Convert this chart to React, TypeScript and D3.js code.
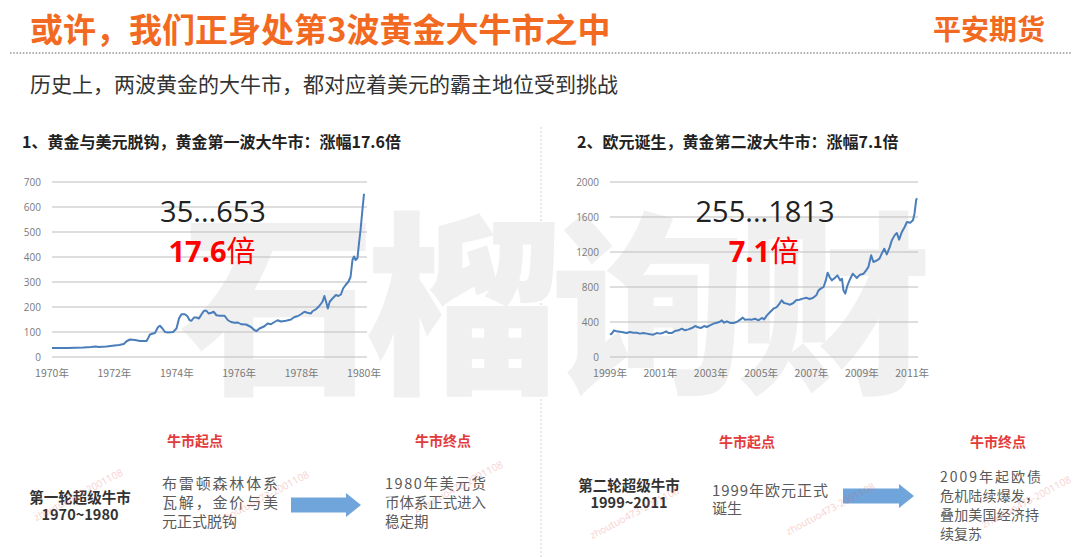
import React from "react";
import * as d3 from "d3";

// ---------- DATA ----------
const leftYears = [1970.0, 1970.25, 1970.5, 1970.75, 1971.0, 1971.25, 1971.4, 1971.5, 1971.75, 1972.0, 1972.15, 1972.3, 1972.39, 1972.5, 1972.66, 1972.82, 1973.03, 1973.08, 1973.14, 1973.24, 1973.3, 1973.4, 1973.46, 1973.54, 1973.62, 1973.72, 1973.88, 1973.99, 1974.07, 1974.15, 1974.26, 1974.34, 1974.41, 1974.47, 1974.55, 1974.63, 1974.71, 1974.79, 1974.87, 1974.95, 1975.02, 1975.11, 1975.18, 1975.27, 1975.37, 1975.53, 1975.64, 1975.74, 1975.85, 1975.96, 1976.06, 1976.22, 1976.38, 1976.49, 1976.56, 1976.65, 1976.81, 1976.91, 1977.02, 1977.13, 1977.23, 1977.34, 1977.5, 1977.66, 1977.77, 1977.87, 1977.98, 1978.09, 1978.19, 1978.3, 1978.35, 1978.46, 1978.56, 1978.67, 1978.73, 1978.8, 1978.84, 1978.9, 1978.99, 1979.1, 1979.18, 1979.26, 1979.33, 1979.41, 1979.5, 1979.57, 1979.63, 1979.68, 1979.73, 1979.79, 1979.84, 1979.89, 1979.95, 1980.0];
const leftValues = [36, 36, 36, 37, 38, 40, 42, 40, 42, 46, 48, 52, 63, 70, 68, 64, 64, 75, 90, 94, 96, 120, 125, 114, 100, 98, 100, 114, 154, 171, 171, 163, 147, 145, 158, 158, 154, 170, 185, 185, 174, 177, 181, 167, 165, 165, 147, 140, 137, 138, 131, 130, 120, 107, 104, 114, 123, 134, 131, 140, 147, 142, 145, 150, 160, 163, 171, 181, 177, 174, 183, 191, 203, 221, 244, 214, 194, 221, 234, 248, 244, 250, 274, 288, 301, 321, 388, 402, 388, 395, 455, 509, 589, 653];

const rightYears = [1999.0, 1999.07, 1999.16, 1999.26, 1999.46, 1999.66, 1999.79, 1999.93, 2000.06, 2000.19, 2000.32, 2000.46, 2000.59, 2000.72, 2000.85, 2000.99, 2001.12, 2001.23, 2001.32, 2001.45, 2001.58, 2001.72, 2001.85, 2001.98, 2002.11, 2002.25, 2002.38, 2002.47, 2002.6, 2002.74, 2002.84, 2002.97, 2003.11, 2003.24, 2003.34, 2003.44, 2003.53, 2003.64, 2003.77, 2003.9, 2004.03, 2004.17, 2004.27, 2004.36, 2004.5, 2004.63, 2004.76, 2004.89, 2005.03, 2005.12, 2005.23, 2005.36, 2005.49, 2005.62, 2005.73, 2005.82, 2005.91, 2006.02, 2006.15, 2006.28, 2006.39, 2006.52, 2006.66, 2006.79, 2006.92, 2007.05, 2007.19, 2007.28, 2007.37, 2007.48, 2007.57, 2007.64, 2007.72, 2007.81, 2007.94, 2008.03, 2008.14, 2008.21, 2008.27, 2008.34, 2008.43, 2008.54, 2008.64, 2008.74, 2008.8, 2008.93, 2009.07, 2009.17, 2009.26, 2009.37, 2009.46, 2009.6, 2009.7, 2009.79, 2009.89, 2009.99, 2010.1, 2010.19, 2010.3, 2010.39, 2010.48, 2010.59, 2010.7, 2010.79, 2010.92, 2011.03, 2011.09, 2011.16, 2011.19];
const rightValues = [255, 267, 305, 293, 286, 274, 286, 278, 278, 267, 274, 267, 259, 255, 274, 267, 278, 293, 274, 274, 297, 305, 324, 305, 316, 331, 354, 343, 331, 354, 343, 362, 381, 392, 400, 419, 392, 408, 389, 389, 400, 427, 450, 427, 430, 427, 438, 419, 446, 430, 476, 514, 552, 571, 610, 648, 617, 610, 598, 617, 648, 655, 667, 678, 663, 674, 705, 762, 781, 800, 876, 964, 914, 876, 907, 933, 876, 895, 762, 724, 819, 895, 952, 922, 903, 941, 952, 990, 1029, 1162, 1086, 1105, 1124, 1181, 1238, 1173, 1250, 1333, 1390, 1417, 1341, 1429, 1486, 1543, 1535, 1562, 1638, 1798, 1813];

const leftYTicks = [0, 100, 200, 300, 400, 500, 600, 700];
const rightYTicks = [0, 400, 800, 1200, 1600, 2000];
const leftXTicks = [1970, 1972, 1974, 1976, 1978, 1980];
const rightXTicks = [1999, 2001, 2003, 2005, 2007, 2009, 2011];

const title = "或许，我们正身处第3波黄金大牛市之中";
const brand = "平安期货";
const subtitle = "历史上，两波黄金的大牛市，都对应着美元的霸主地位受到挑战";
const heading1 = "1、黄金与美元脱钩，黄金第一波大牛市：涨幅17.6倍";
const heading2 = "2、欧元诞生，黄金第二波大牛市：涨幅7.1倍";

const CJK = "'Noto Sans CJK SC', 'Noto Sans', sans-serif";
const NUM = "'Open Sans', 'Noto Sans', sans-serif";
const ORANGE = "#F26A21";
const RED = "#E23B3B";
const LINE = "#4A7EBB";
const GRID = "#bdbdbd";
const AXIS_TXT = "#7a7a7a";
const ARROW = "#6FA5DA";

const stamp = "zhoutuo473-2001108";
const stampPos = [
  [80, 498], [266, 500], [460, 490], [636, 516], [832, 512], [1028, 505],
];

function Chart({ xs, ys, xDomain, xRange, yMax, yTicks, xTicks, gridX2 }) {
  const x = d3.scaleLinear().domain(xDomain).range(xRange);
  const y = d3.scaleLinear().domain([0, yMax]).range([357, 182]);
  const data = xs.map((t, i) => [t, ys[i]]);
  const line = d3.line().x((d) => x(d[0])).y((d) => y(d[1]));
  return (
    <g>
      {yTicks.map((t) => (
        <g key={t}>
          <line x1={xRange[0]} x2={gridX2} y1={y(t)} y2={y(t)} stroke={GRID} strokeWidth={1} />
          <text x={xRange[0] - 11} y={y(t) + 3.5} textAnchor="end" fontSize={10} fill={AXIS_TXT} fontFamily={NUM}>
            {t}
          </text>
        </g>
      ))}
      {xTicks.map((t) => (
        <text key={t} x={x(t)} y={377} textAnchor="middle" fontSize={10.5} fill={AXIS_TXT} fontFamily={CJK}>
          {t + "年"}
        </text>
      ))}
      <path d={line(data)} fill="none" stroke={LINE} strokeWidth={2} strokeLinejoin="round" />
    </g>
  );
}

function Arrow({ x0, x1, cy }) {
  const head = 15;
  const bh = 7.5;
  const hh = 12;
  const pts = [
    [x0, cy - bh], [x1 - head, cy - bh], [x1 - head, cy - hh], [x1, cy],
    [x1 - head, cy + hh], [x1 - head, cy + bh], [x0, cy + bh],
  ];
  return <polygon points={pts.map((p) => p.join(",")).join(" ")} fill={ARROW} />;
}

function Lines({ x, ys, lines, size, fill, weight, widths, anchor }) {
  return (
    <g>
      {lines.map((s, i) => (
        <text
          key={i}
          x={x}
          y={ys[i]}
          fontSize={size}
          fill={fill}
          fontWeight={weight || "normal"}
          fontFamily={CJK}
          textAnchor={anchor || "start"}
          textLength={widths && widths[i] ? widths[i] : undefined}
          lengthAdjust="spacing"
        >
          {s}
        </text>
      ))}
    </g>
  );
}

export default function App() {
  return (
    <svg width={1080} height={557} style={{ position: "absolute", left: 0, top: 0, background: "#fff" }}>
      <rect width={1080} height={557} fill="#fff" />
      {/* header */}
      <text x={30} y={42} fontSize={33} fontWeight="bold" fill={ORANGE} fontFamily={CJK}>{title}</text>
      <text x={1045} y={40} fontSize={28} fontWeight="bold" fill={ORANGE} fontFamily={CJK} textAnchor="end">{brand}</text>
      <line x1={10} x2={1072} y1={53} y2={53} stroke="#9a9a9a" strokeWidth={1.6} strokeDasharray="1.6 1.6" />
      <text x={30} y={92} fontSize={21} fill="#333" fontFamily={CJK}>{subtitle}</text>

      {/* divider */}
      <line x1={541} x2={541} y1={127} y2={557} stroke="#d0d0d0" strokeWidth={1} strokeDasharray="2 2" />

      {/* headings */}
      <text x={22} y={148} fontSize={16} fontWeight="bold" fill="#222" fontFamily={CJK}>{heading1}</text>
      <text x={577} y={148} fontSize={16} fontWeight="bold" fill="#222" fontFamily={CJK}>{heading2}</text>

      {/* big watermark */}
      <text x={180} y={378} fontSize={196} fontWeight={900} fill="#f0f0f0" fontFamily={CJK} textLength={752} lengthAdjust="spacing">
        石榴询财
      </text>

      {/* charts */}
      <Chart xs={leftYears} ys={leftValues} xDomain={[1970, 1980]} xRange={[52, 364]} yMax={700} yTicks={leftYTicks} xTicks={leftXTicks} gridX2={367} />
      <Chart xs={rightYears} ys={rightValues} xDomain={[1999, 2011.19]} xRange={[610, 917]} yMax={2000} yTicks={rightYTicks} xTicks={rightXTicks} gridX2={918} />

      {/* chart annotations */}
      <text x={213} y={222} fontSize={29} fill="#222" fontFamily={NUM} textAnchor="middle">35...653</text>
      <text x={212} y={262} fontSize={29} fill="#ff0000" fontFamily={CJK} textAnchor="middle">
        <tspan fontWeight="bold" fontFamily={NUM}>17.6</tspan>
        <tspan>倍</tspan>
      </text>
      <text x={765} y={222} fontSize={29} fill="#222" fontFamily={NUM} textAnchor="middle">255...1813</text>
      <text x={764} y={262} fontSize={29} fill="#ff0000" fontFamily={CJK} textAnchor="middle">
        <tspan fontWeight="bold" fontFamily={NUM}>7.1</tspan>
        <tspan>倍</tspan>
      </text>

      {/* bottom: left */}
      <text x={195} y={446} fontSize={14} fontWeight="bold" fill={RED} fontFamily={CJK} textAnchor="middle">牛市起点</text>
      <text x={443} y={446} fontSize={14} fontWeight="bold" fill={RED} fontFamily={CJK} textAnchor="middle">牛市终点</text>
      <Lines x={80} ys={[503, 520]} lines={["第一轮超级牛市", "1970~1980"]} size={14.5} fill="#333" weight="bold" anchor="middle" />
      <Lines x={162} ys={[489, 508, 527]} lines={["布雷顿森林体系", "瓦解，金价与美", "元正式脱钩"]} size={15} fill="#5a5a5a" widths={[116, 116, 0]} />
      <Arrow x0={291} x1={361} cy={505} />
      <Lines x={385} ys={[489, 508, 527]} lines={["1980年美元货", "币体系正式进入", "稳定期"]} size={14.5} fill="#5a5a5a" widths={[101, 101, 0]} />

      {/* bottom: right */}
      <text x={747} y={447} fontSize={14} fontWeight="bold" fill={RED} fontFamily={CJK} textAnchor="middle">牛市起点</text>
      <text x={998} y={447} fontSize={14} fontWeight="bold" fill={RED} fontFamily={CJK} textAnchor="middle">牛市终点</text>
      <Lines x={629} ys={[491, 508]} lines={["第二轮超级牛市", "1999~2011"]} size={14.5} fill="#333" weight="bold" anchor="middle" />
      <Lines x={712} ys={[496, 514]} lines={["1999年欧元正式", "诞生"]} size={15} fill="#5a5a5a" widths={[116, 0]} />
      <Arrow x0={843} x1={914} cy={496} />
      <Lines x={940} ys={[482, 501, 520, 539]} lines={["2009年起欧债", "危机陆续爆发，", "叠加美国经济持", "续复苏"]} size={14} fill="#5a5a5a" widths={[101, 99, 99, 0]} />

      {/* faint stamps */}
      {stampPos.map(([sx, sy], i) => (
        <text
          key={i}
          x={sx}
          y={sy}
          fontSize={10}
          fill="#e05a5a"
          opacity={0.28}
          fontFamily={NUM}
          textAnchor="middle"
          transform={`rotate(-28 ${sx} ${sy})`}
        >
          {stamp}
        </text>
      ))}
    </svg>
  );
}
